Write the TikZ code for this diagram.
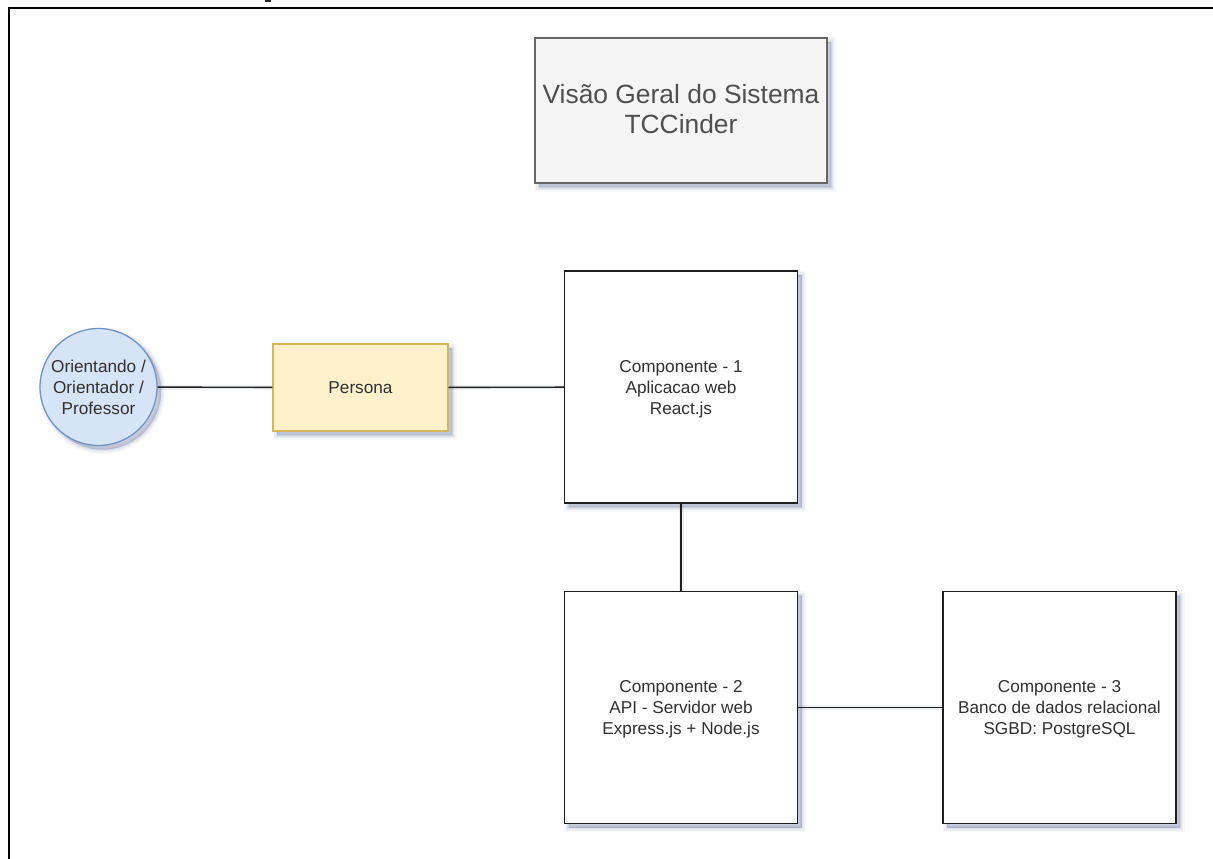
\documentclass[tikz,border=0pt]{standalone}
\usepackage{fontspec}
\setmainfont{Liberation Sans}
\usetikzlibrary{shadows}
\definecolor{shc}{RGB}{110,120,165}
\definecolor{txt}{RGB}{48,48,48}
\definecolor{edge}{RGB}{30,30,30}
\definecolor{actfill}{RGB}{214,228,248}
\definecolor{actdraw}{RGB}{112,146,195}
\definecolor{perfill}{RGB}{255,241,203}
\definecolor{perdraw}{RGB}{214,182,86}
\definecolor{titfill}{RGB}{245,245,245}
\definecolor{titdraw}{RGB}{102,102,102}
\newcommand{\nudgedown}{\rule{0pt}{16pt}}
\newcommand{\nudgeup}{\rule[-3.5pt]{0pt}{0pt}}
\tikzset{
  softshadow/.style={
    general shadow={fill=shc,draw=shc,line width=9pt,opacity=.05,shadow xshift=4pt,shadow yshift=-4pt},
    general shadow={fill=shc,draw=shc,line width=6pt,opacity=.08,shadow xshift=4pt,shadow yshift=-4pt},
    general shadow={fill=shc,draw=shc,line width=3pt,opacity=.10,shadow xshift=4pt,shadow yshift=-4pt},
    general shadow={fill=shc,draw=shc,line width=.5pt,opacity=.14,shadow xshift=4pt,shadow yshift=-4pt}},
  comp/.style={rectangle,draw=edge,line width=1.3pt,fill=white,minimum width=233pt,minimum height=232pt,inner sep=0pt,
    align=center,text=txt,font=\fontsize{17.2}{21}\selectfont,softshadow},
  titlebox/.style={rectangle,draw=titdraw,line width=1.3pt,fill=titfill,minimum width=292pt,minimum height=145pt,inner sep=0pt,
    align=center,text=txt!85,font=\fontsize{26.4}{30}\selectfont,softshadow},
  personabox/.style={rectangle,draw=perdraw,line width=1.3pt,fill=perfill,minimum width=175pt,minimum height=87pt,inner sep=0pt,
    align=center,text=txt,font=\fontsize{17.2}{21}\selectfont,softshadow},
  actor/.style={circle,draw=actdraw,line width=1.3pt,fill=actfill,minimum size=117pt,inner sep=0pt,
    align=center,text=txt,font=\fontsize{17.2}{21}\selectfont,softshadow},
  link/.style={draw=edge,line width=1.4pt},
  linkshade/.style={draw=shc,line width=5pt,opacity=.1,xshift=4pt,yshift=-4pt},
  frame/.style={draw=black,line width=2pt}
}
\begin{document}
\begin{tikzpicture}[x=1pt,y=-1pt]
\useasboundingbox (0,0) rectangle (1213,859);
\fill[white] (0,0) rectangle (1213,859);
\coordinate (fbl) at (9,859);
\coordinate (ftl) at (9,8);
\coordinate (ftr) at (1213,8);
\draw[frame] (fbl) -- (ftl) -- (ftr);
\fill[black!85] (265,0) rectangle (271,2.5);
\coordinate (a0) at (157,387);
\coordinate (p0) at (273,387);
\coordinate (p1) at (448,387);
\coordinate (c1w) at (564,387);
\coordinate (c1s) at (681,503);
\coordinate (c2n) at (681,591);
\coordinate (c2e) at (798,707);
\coordinate (c3w) at (943,707);
\draw[linkshade] (a0) -- (p0);
\draw[linkshade] (p1) -- (c1w);
\draw[linkshade] (c1s) -- (c2n);
\draw[linkshade] (c2e) -- (c3w);
\node[titlebox] (title) at (681,110.5) {Visão Geral do Sistema\\TCCinder\nudgeup};
\node[actor] (a) at (98.5,387) {Orientando /\\Orientador /\\Professor};
\node[personabox] (p) at (360.5,387.5) {Persona};
\node[comp] (c1) at (681,387) {\nudgedown Componente - 1\\Aplicacao web\\React.js};
\node[comp] (c2) at (681,707.5) {\nudgedown Componente - 2\\API - Servidor web\\Express.js + Node.js};
\node[comp] (c3) at (1059.5,707.5) {\nudgedown Componente - 3\\Banco de dados relacional\\SGBD: PostgreSQL};
\draw[link] (a) -- (p);
\draw[link] (p) -- (c1);
\draw[link] (c1) -- (c2);
\draw[link] (c2) -- (c3);
\end{tikzpicture}
\end{document}
